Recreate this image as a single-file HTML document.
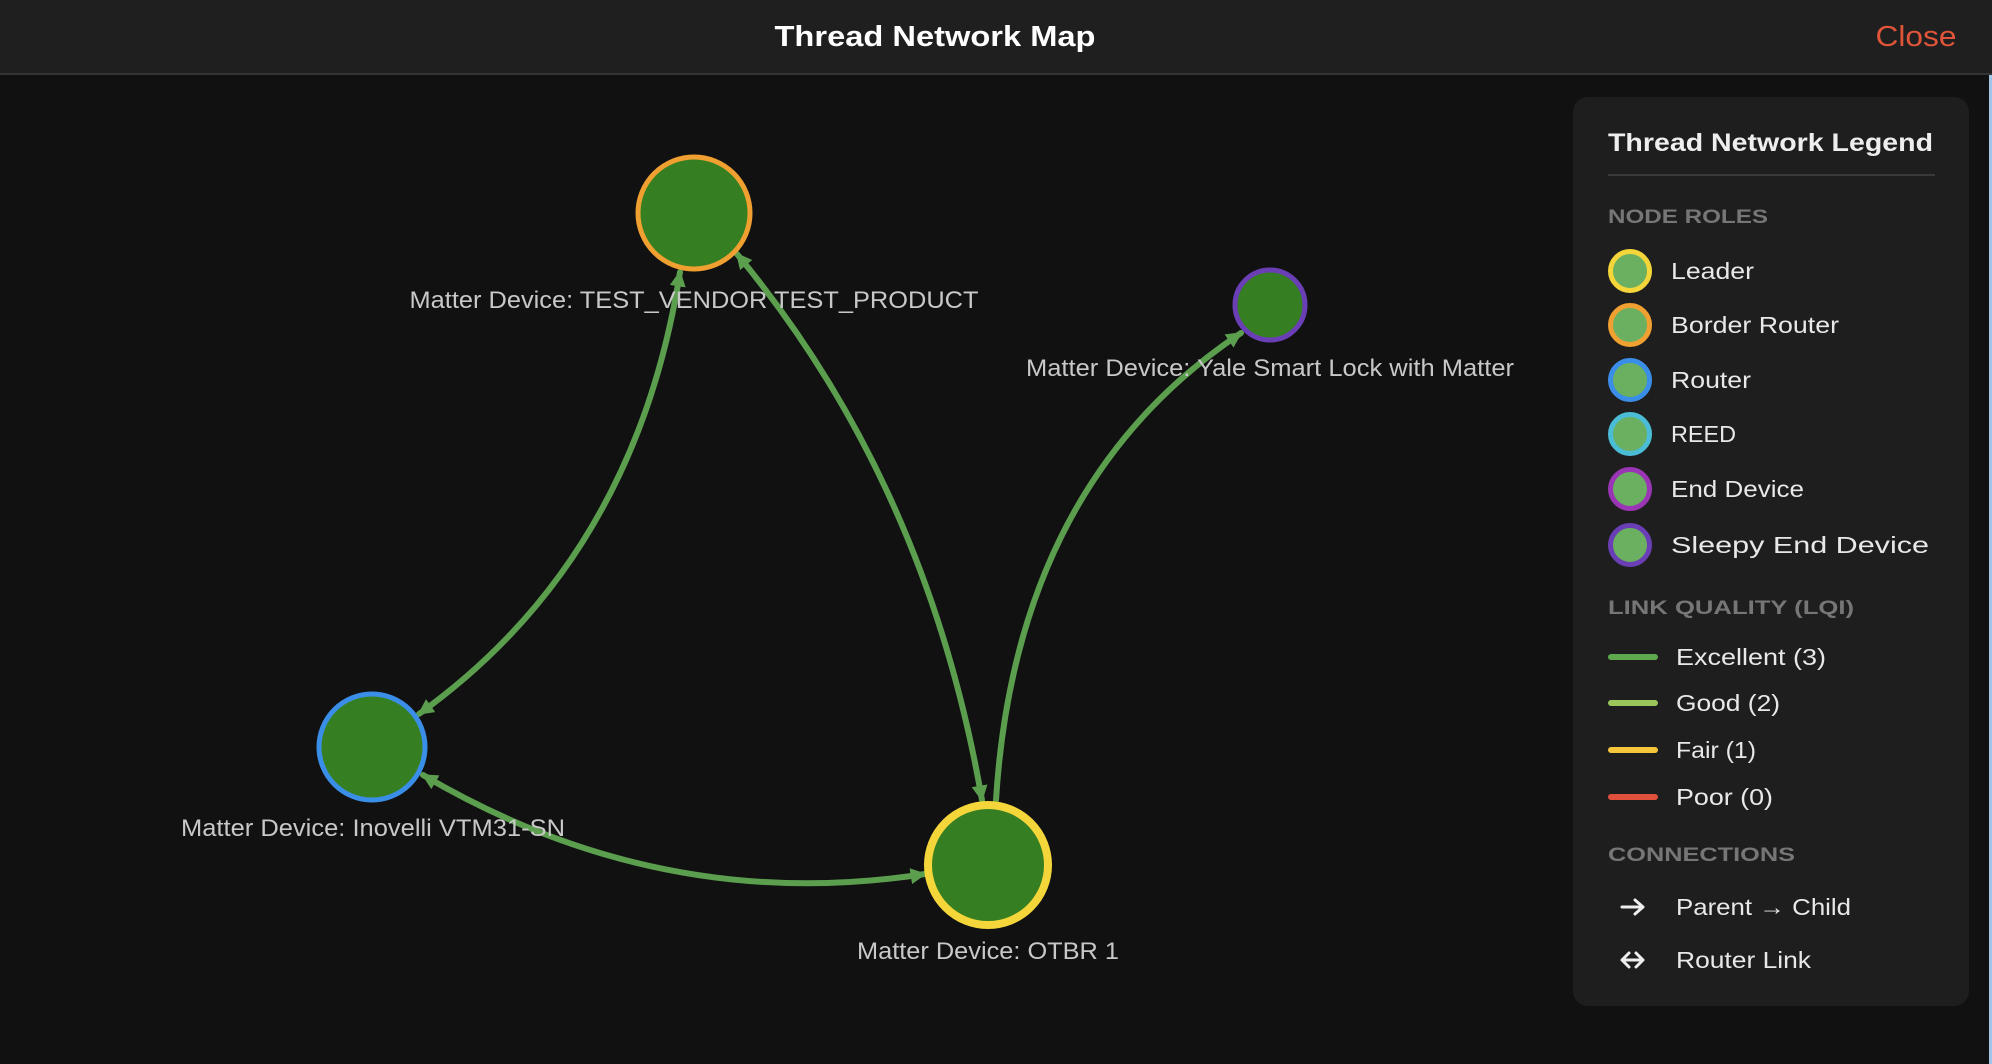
<!DOCTYPE html>
<html><head><meta charset="utf-8"><style>
html,body{margin:0;padding:0;background:#111;width:1992px;height:1064px;overflow:hidden}
svg{display:block}
text{font-family:"Liberation Sans",sans-serif}
</style></head><body>
<svg width="1992" height="1064" viewBox="0 0 1992 1064" xmlns="http://www.w3.org/2000/svg">
<defs>
<marker id="ah" viewBox="0 0 10 10" refX="9" refY="5" markerWidth="16" markerHeight="16" markerUnits="userSpaceOnUse" orient="auto-start-reverse">
<path d="M0,0 L10,5 L0,10 z" fill="#5a9e4e"/></marker>
</defs>
<rect width="1992" height="1064" fill="#111111"/>
<rect width="1992" height="74" fill="#1f1f1f"/>
<rect y="73" width="1992" height="2" fill="#343434"/>
<rect x="1989" y="75" width="3" height="989" fill="#9fc6e6"/>
<text x="935" y="46" text-anchor="middle" font-size="29" font-weight="bold" fill="#ffffff" textLength="321" lengthAdjust="spacingAndGlyphs">Thread Network Map</text>
<text x="1916" y="46" text-anchor="middle" font-size="29" fill="#e0553a" textLength="81" lengthAdjust="spacingAndGlyphs">Close</text>

<g fill="none" stroke="#5a9e4e" stroke-width="6" stroke-linecap="round">
<path d="M680,272 Q635,559 419,714" marker-start="url(#ah)" marker-end="url(#ah)"/>
<path d="M737,254 Q927,483 982,800" marker-start="url(#ah)" marker-end="url(#ah)"/>
<path d="M996,800 Q1016,483 1241,333" marker-end="url(#ah)"/>
<path d="M423,775 Q661,915 925,874" marker-start="url(#ah)" marker-end="url(#ah)"/>
</g>

<g fill="#357f22">
<circle cx="694" cy="213" r="56" stroke="#f0a030" stroke-width="5"/>
<circle cx="1270" cy="305" r="35" stroke="#6a3fb5" stroke-width="5"/>
<circle cx="372" cy="747" r="53" stroke="#3b8ee8" stroke-width="5"/>
<circle cx="988" cy="865" r="60" stroke="#f5d63a" stroke-width="8"/>
</g>
<g fill="#c8c8c8" font-size="24" text-anchor="middle">
<text x="694" y="308" textLength="569" lengthAdjust="spacingAndGlyphs">Matter Device: TEST_VENDOR TEST_PRODUCT</text>
<text x="1270" y="376" textLength="488" lengthAdjust="spacingAndGlyphs">Matter Device: Yale Smart Lock with Matter</text>
<text x="373" y="836" textLength="384" lengthAdjust="spacingAndGlyphs">Matter Device: Inovelli VTM31-SN</text>
<text x="988" y="959" textLength="262" lengthAdjust="spacingAndGlyphs">Matter Device: OTBR 1</text>
</g>

<rect x="1573" y="97" width="396" height="909" rx="15" fill="#1e1e1e"/>
<text x="1608" y="151" font-size="25" font-weight="bold" fill="#eeeeee" textLength="325" lengthAdjust="spacingAndGlyphs">Thread Network Legend</text>
<rect x="1608" y="174" width="327" height="2" fill="#3a3a3a"/>
<g fill="#767676" font-size="19" font-weight="bold">
<text x="1608" y="223" textLength="160" lengthAdjust="spacingAndGlyphs">NODE ROLES</text>
<text x="1608" y="614" textLength="246" lengthAdjust="spacingAndGlyphs">LINK QUALITY (LQI)</text>
<text x="1608" y="861" textLength="187" lengthAdjust="spacingAndGlyphs">CONNECTIONS</text>
</g>
<g fill="#6ab060" stroke-width="5">
<circle cx="1630" cy="271" r="19.5" stroke="#f5d63a"/>
<circle cx="1630" cy="325" r="19.5" stroke="#f0a030"/>
<circle cx="1630" cy="380" r="19.5" stroke="#3b8ee8"/>
<circle cx="1630" cy="434" r="19.5" stroke="#4bbcd6"/>
<circle cx="1630" cy="489" r="19.5" stroke="#9a35b5"/>
<circle cx="1630" cy="545" r="19.5" stroke="#6a3fb5"/>
</g>
<g fill="#e8e8e8" font-size="23">
<text x="1671" y="279" textLength="83" lengthAdjust="spacingAndGlyphs">Leader</text>
<text x="1671" y="333" textLength="168" lengthAdjust="spacingAndGlyphs">Border Router</text>
<text x="1671" y="388" textLength="80" lengthAdjust="spacingAndGlyphs">Router</text>
<text x="1671" y="442" textLength="65" lengthAdjust="spacingAndGlyphs">REED</text>
<text x="1671" y="497" textLength="133" lengthAdjust="spacingAndGlyphs">End Device</text>
<text x="1671" y="553" textLength="258" lengthAdjust="spacingAndGlyphs">Sleepy End Device</text>
<text x="1676" y="665" textLength="150" lengthAdjust="spacingAndGlyphs">Excellent (3)</text>
<text x="1676" y="711" textLength="104" lengthAdjust="spacingAndGlyphs">Good (2)</text>
<text x="1676" y="758" textLength="80" lengthAdjust="spacingAndGlyphs">Fair (1)</text>
<text x="1676" y="805" textLength="97" lengthAdjust="spacingAndGlyphs">Poor (0)</text>
<text x="1676" y="915" textLength="175" lengthAdjust="spacingAndGlyphs">Parent → Child</text>
<text x="1676" y="968" textLength="135" lengthAdjust="spacingAndGlyphs">Router Link</text>
</g>
<g stroke-width="6" stroke-linecap="round">
<line x1="1611" y1="657" x2="1655" y2="657" stroke="#5ea84e"/>
<line x1="1611" y1="703" x2="1655" y2="703" stroke="#9bc75a"/>
<line x1="1611" y1="750" x2="1655" y2="750" stroke="#f5c53a"/>
<line x1="1611" y1="797" x2="1655" y2="797" stroke="#e0503c"/>
</g>
<g fill="none" stroke="#eeeeee" stroke-width="3" stroke-linecap="round" stroke-linejoin="round">
<path d="M1622,907 H1643 M1635,900 L1643,907 L1635,914"/>
<path d="M1623,960 H1643 M1629,953 L1622,960 L1629,967 M1636,953 L1643,960 L1636,967"/>
</g>
</svg>
</body></html>
